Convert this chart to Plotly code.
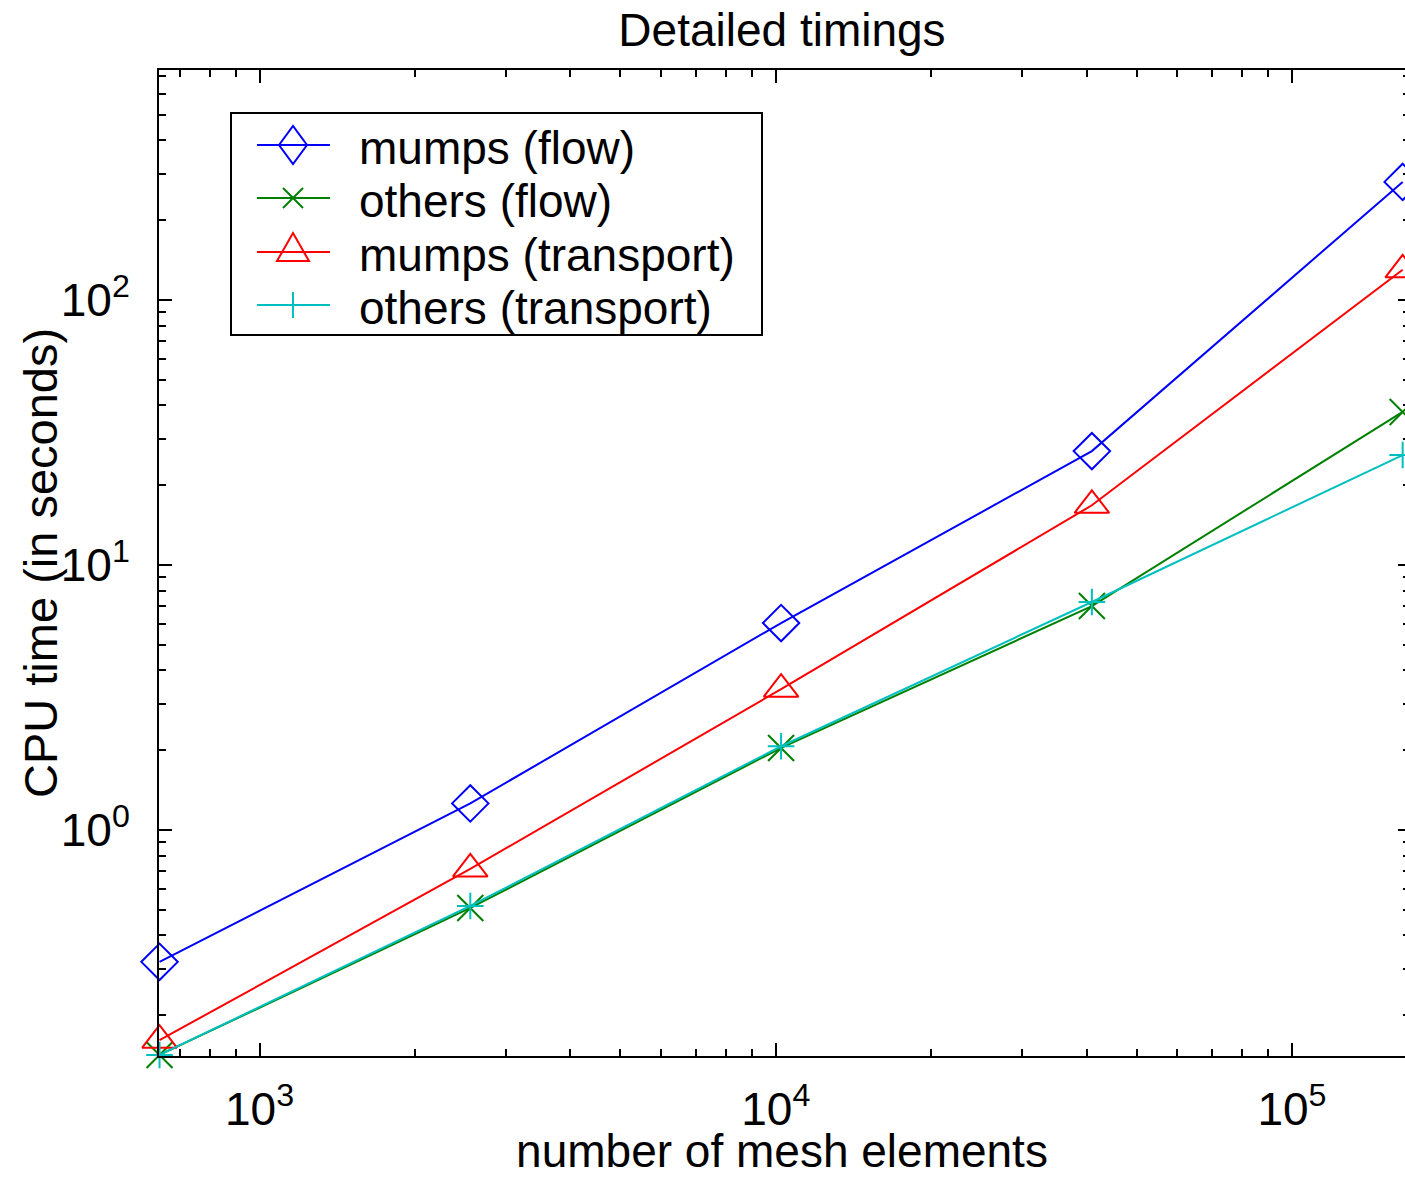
import plotly.graph_objects as go
import math

# ---- data ----
mesh_elements = [640, 2560, 10240, 40960, 163840]
mumps_flow = [0.318, 1.26, 6.04, 26.9, 279]
others_flow = [0.1416, 0.508, 2.04, 7.0, 37.8]
mumps_transport = [0.161, 0.713, 3.40, 16.8, 130]
others_transport = [0.1416, 0.517, 2.07, 7.25, 26.0]

series_names = ["mumps (flow)", "others (flow)", "mumps (transport)", "others (transport)"]

x_tickvals = [1e3, 1e4, 1e5]
x_ticktext = ["10<sup>3</sup>", "10<sup>4</sup>", "10<sup>5</sup>"]
y_tickvals = [1, 10, 100]
y_ticktext = ["10<sup>0</sup>", "10<sup>1</sup>", "10<sup>2</sup>"]

x_minor = [m * 10 ** e for e in range(2, 6) for m in range(2, 10)]
y_minor = [m * 10 ** e for e in range(-1, 3) for m in range(2, 10)]

FONT = "Liberation Sans, Arial, Helvetica, sans-serif"
W, H = 1405, 1177
L, R, T, B = 159, 0, 70, 121
PW, PH = W - L - R, H - T - B

x0 = math.log10(640) - 0.001
x_range = [x0, x0 + PW / 516.2]
y_bottom = -226 / 265
y_range = [y_bottom, y_bottom + PH / 265]

colors = ["#0000FF", "#008000", "#FF0000", "#00BFBF"]
symbols = ["diamond-open", "x-thin-open", "triangle-up-open", "cross-thin-open"]
sizes = [28, 26, 30, 19]
series_values = [mumps_flow, others_flow, mumps_transport, others_transport]

fig = go.Figure()
for name, vals, color, sym, size in zip(series_names, series_values, colors, symbols, sizes):
    fig.add_trace(go.Scatter(
        x=mesh_elements, y=vals, name=name, mode="lines+markers",
        line=dict(color=color, width=2),
        marker=dict(symbol=sym, size=size, color=color, line=dict(color=color, width=2)),
        cliponaxis=False,
    ))

# dummy trace for right-side tick axis
fig.add_trace(go.Scatter(x=[None], y=[None], yaxis="y2", showlegend=False, hoverinfo="skip"))


def px(xp):
    return (xp - L) / PW


def py(yp):
    return (H - B - yp) / PH


# ---- custom legend (box, line samples, symbols, labels) ----
shapes = [dict(type="rect", xref="paper", yref="paper", x0=px(231), x1=px(762), y0=py(113), y1=py(335),
               line=dict(color="black", width=2), fillcolor="white", layer="above")]
annotations = []
row_y = [145, 198, 252, 305]
marker_paths = [
    "M-14,0 L0,19 L14,0 L0,-19 Z",
    "M-10,-10 L10,10 M-10,10 L10,-10",
    "M-16,-9 L16,-9 L0,19 Z",
    "M0,-13 L0,13",
]
for name, color, ry, path in zip(series_names, colors, row_y, marker_paths):
    shapes.append(dict(type="line", xref="paper", yref="paper", x0=px(257), x1=px(330), y0=py(ry), y1=py(ry),
                       line=dict(color=color, width=2), layer="above"))
    shapes.append(dict(type="path", xref="paper", yref="paper", xsizemode="pixel", ysizemode="pixel",
                       xanchor=px(293), yanchor=py(ry), path=path,
                       line=dict(color=color, width=2), layer="above"))
    annotations.append(dict(text=name, xref="paper", yref="paper", x=px(357), y=py(ry + 3),
                            xanchor="left", yanchor="middle", showarrow=False,
                            font=dict(family=FONT, size=46, color="black")))

# y axis title (placed to match the reference, overlapping the tick column slightly)
annotations.append(dict(text="CPU time (in seconds)", xref="paper", yref="paper",
                        x=px(40), y=py(563), xanchor="center", yanchor="middle", textangle=-90,
                        showarrow=False, font=dict(family=FONT, size=47, color="black")))

axis_common = dict(type="log", showgrid=False, zeroline=False, ticks="inside",
                   tickwidth=2, tickcolor="black", linecolor="black", linewidth=2,
                   tickfont=dict(family=FONT, size=46, color="black"))

fig.update_layout(
    width=W, height=H, autosize=False,
    margin=dict(l=L, r=R, t=T, b=B, pad=0),
    paper_bgcolor="white", plot_bgcolor="white",
    font=dict(family=FONT, color="black"),
    title=dict(text="Detailed timings", x=0.5, xref="paper", y=1 - 30 / H, yref="container",
               xanchor="center", yanchor="middle", font=dict(family=FONT, size=46, color="black")),
    xaxis=dict(**axis_common, range=x_range, showline=True, mirror="ticks", ticklen=13,
               tickmode="array", tickvals=x_tickvals, ticktext=x_ticktext,
               minor=dict(ticks="inside", ticklen=7, tickwidth=2, tickcolor="black",
                          tickmode="array", tickvals=x_minor, showgrid=False),
               ticklabelstandoff=12,
               title=dict(text="number of mesh elements", standoff=6,
                          font=dict(family=FONT, size=46, color="black"))),
    yaxis=dict(**axis_common, range=y_range, showline=True, mirror=False, ticklen=13,
               tickmode="array", tickvals=y_tickvals, ticktext=y_ticktext,
               minor=dict(ticks="inside", ticklen=7, tickwidth=2, tickcolor="black",
                          tickmode="array", tickvals=y_minor, showgrid=False),
               ticklabelstandoff=18),
    yaxis2=dict(type="log", overlaying="y", side="right", range=y_range, showgrid=False,
                zeroline=False, showline=False, showticklabels=False, ticks="inside",
                ticklen=7, tickwidth=2, tickcolor="black",
                tickmode="array", tickvals=y_tickvals,
                minor=dict(ticks="inside", ticklen=2, tickwidth=2, tickcolor="black",
                           tickmode="array", tickvals=y_minor, showgrid=False)),
    showlegend=False,
    shapes=shapes,
    annotations=annotations,
)

fig.write_html("out.html")
